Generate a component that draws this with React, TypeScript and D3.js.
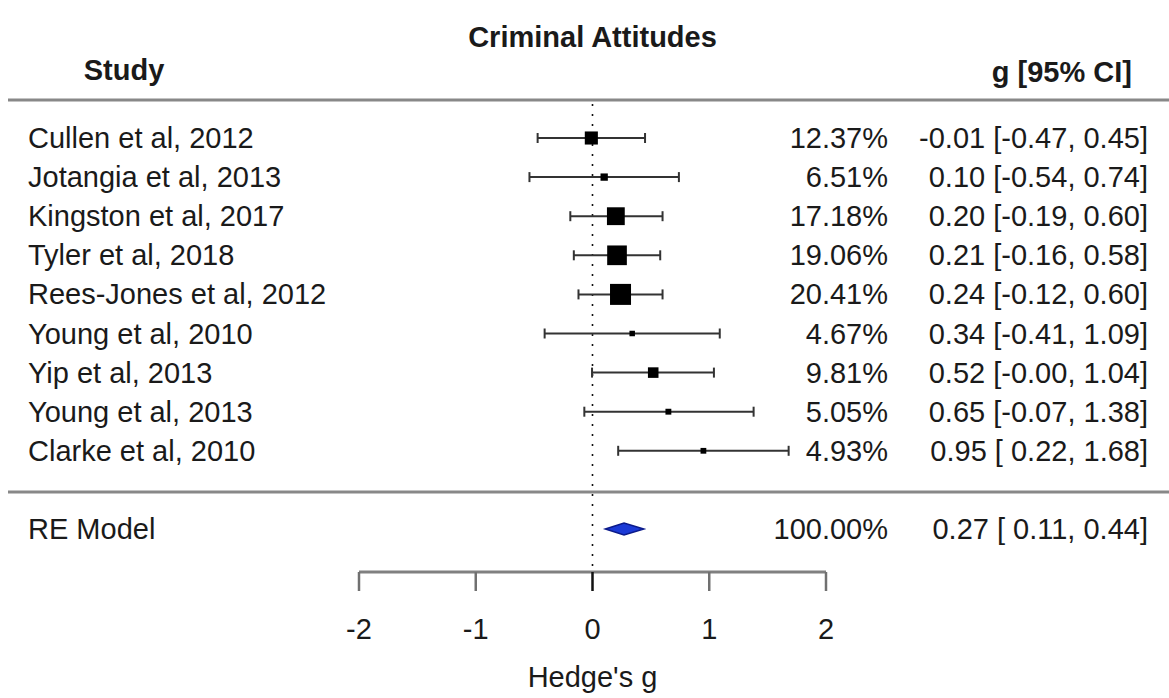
import React from 'react'
import * as d3 from 'd3'

// study rows
const studies = [
  'Cullen et al, 2012',
  'Jotangia et al, 2013',
  'Kingston et al, 2017',
  'Tyler et al, 2018',
  'Rees-Jones et al, 2012',
  'Young et al, 2010',
  'Yip et al, 2013',
  'Young et al, 2013',
  'Clarke et al, 2010',
]
const effects = [-0.01, 0.10, 0.20, 0.21, 0.24, 0.34, 0.52, 0.65, 0.95]
const ciLower = [-0.47, -0.54, -0.19, -0.16, -0.12, -0.41, -0.004, -0.07, 0.22]
const ciUpper = [0.45, 0.74, 0.60, 0.58, 0.60, 1.09, 1.04, 1.38, 1.68]
const weights = [12.37, 6.51, 17.18, 19.06, 20.41, 4.67, 9.81, 5.05, 4.93]

// random effects summary
const pooledLabel = 'RE Model'
const pooledEstimate = 0.27
const pooledLower = 0.11
const pooledUpper = 0.44
const pooledWeight = 100.0

const xTicks = [-2, -1, 0, 1, 2]

const W = 1169
const H = 698
const FONT = '"Liberation Sans", Arial, Helvetica, sans-serif'
const FS = 29
const TEXT = '#1a1a1a'

const fmt = (v: number) => v.toFixed(2)
const fmtLo = (v: number) => (v < 0 ? fmt(v) : ' ' + fmt(v))
const ciText = (g: number, lo: number, hi: number) => `${fmt(g)} [${fmtLo(lo)}, ${fmt(hi)}]`

const App = () => {
  const x = d3.scaleLinear().domain([-2, 2]).range([359, 826])
  const row = d3.scaleLinear().domain([0, 10]).range([138, 529])
  const size = d3.scaleLinear().domain(d3.extent(weights) as [number, number]).range([5.5, 21])

  const topLine = 100
  const midLine = 492
  const axisY = 572
  const tickLen = 19
  const weightX = 888
  const ciX = 1148
  const capH = 5

  const diamond = d3.line()([
    [x(pooledLower), row(10)],
    [x(pooledEstimate), row(10) - 6],
    [x(pooledUpper), row(10)],
    [x(pooledEstimate), row(10) + 6],
  ]) + 'Z'

  return (
    <svg
      width={W}
      height={H}
      style={{ position: 'absolute', left: 0, top: 0, background: '#fff' }}
      fontFamily={FONT}
    >
      {/* title */}
      <text x={x(0)} y={37} textAnchor="middle" dominantBaseline="central" fontSize={FS} fontWeight="bold" fill={TEXT}>
        Criminal Attitudes
      </text>
      <text x={124} y={70} textAnchor="middle" dominantBaseline="central" fontSize={FS} fontWeight="bold" fill={TEXT}>
        Study
      </text>
      <text x={1132} y={72} textAnchor="end" dominantBaseline="central" fontSize={FS} fontWeight="bold" fill={TEXT}>
        g [95% CI]
      </text>

      {/* separators */}
      <line x1={8} x2={W} y1={topLine} y2={topLine} stroke="#888" strokeWidth={3} />
      <line x1={8} x2={W} y1={midLine} y2={midLine} stroke="#888" strokeWidth={3} />

      {/* null line */}
      <line x1={x(0)} x2={x(0)} y1={topLine + 4} y2={axisY} stroke="#111" strokeWidth={1.6} strokeDasharray="2,8" />

      {studies.map((s, i) => {
        const y = row(i)
        const sz = size(weights[i])
        return (
          <g key={s}>
            <text x={28} y={y} dominantBaseline="central" fontSize={FS} fill={TEXT}>{s}</text>
            <line x1={x(ciLower[i])} x2={x(ciUpper[i])} y1={y} y2={y} stroke="#333" strokeWidth={2} />
            <line x1={x(ciLower[i])} x2={x(ciLower[i])} y1={y - capH} y2={y + capH} stroke="#333" strokeWidth={2} />
            <line x1={x(ciUpper[i])} x2={x(ciUpper[i])} y1={y - capH} y2={y + capH} stroke="#333" strokeWidth={2} />
            <rect x={x(effects[i]) - sz / 2} y={y - sz / 2} width={sz} height={sz} fill="#000" />
            <text x={weightX} y={y} textAnchor="end" dominantBaseline="central" fontSize={FS} fill={TEXT}>
              {fmt(weights[i])}%
            </text>
            <text x={ciX} y={y} textAnchor="end" dominantBaseline="central" fontSize={FS} fill={TEXT} style={{ whiteSpace: 'pre' }}>
              {ciText(effects[i], ciLower[i], ciUpper[i])}
            </text>
          </g>
        )
      })}

      {/* pooled estimate */}
      <text x={28} y={row(10)} dominantBaseline="central" fontSize={FS} fill={TEXT}>{pooledLabel}</text>
      <path d={diamond} fill="#1b3ad6" stroke="#0b1a8a" strokeWidth={1.5} />
      <text x={weightX} y={row(10)} textAnchor="end" dominantBaseline="central" fontSize={FS} fill={TEXT}>
        {fmt(pooledWeight)}%
      </text>
      <text x={ciX} y={row(10)} textAnchor="end" dominantBaseline="central" fontSize={FS} fill={TEXT} style={{ whiteSpace: 'pre' }}>
        {ciText(pooledEstimate, pooledLower, pooledUpper)}
      </text>

      {/* x axis */}
      <line x1={x(-2)} x2={x(2)} y1={axisY} y2={axisY} stroke="#808080" strokeWidth={3} />
      {xTicks.map(t => (
        <g key={t}>
          <line x1={x(t)} x2={x(t)} y1={axisY} y2={axisY + tickLen} stroke={t === 0 ? '#111' : '#707070'} strokeWidth={2.5} />
          <text x={x(t)} y={629} textAnchor="middle" dominantBaseline="central" fontSize={FS} fill={TEXT}>{t}</text>
        </g>
      ))}
      <text x={x(0)} y={677} textAnchor="middle" dominantBaseline="central" fontSize={FS} fill={TEXT}>Hedge's g</text>
    </svg>
  )
}

export default App
